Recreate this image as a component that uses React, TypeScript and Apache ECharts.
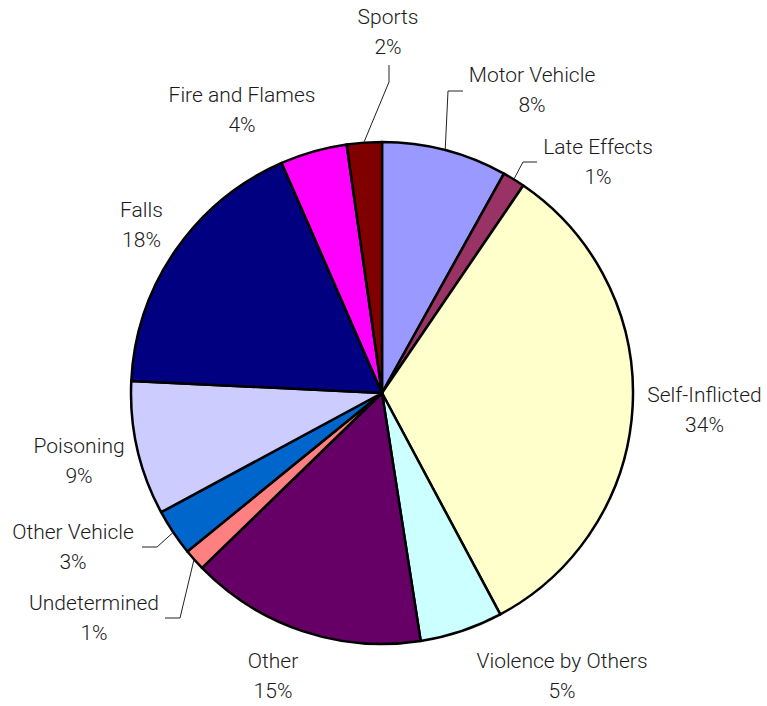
import React, { useEffect, useRef } from "react";
import * as echarts from "echarts";

const categories = [
  "Motor Vehicle",
  "Late Effects",
  "Self-Inflicted",
  "Violence by Others",
  "Other",
  "Undetermined",
  "Other Vehicle",
  "Poisoning",
  "Falls",
  "Fire and Flames",
  "Sports",
];
const shares = [8.08, 1.44, 32.7, 5.35, 15.2, 1.4, 3.0, 8.65, 17.7, 4.3, 2.25];
const percentLabels = ["8%", "1%", "34%", "5%", "15%", "1%", "3%", "9%", "18%", "4%", "2%"];

const COLORS = [
  "#9999FF",
  "#993366",
  "#FFFFCC",
  "#CCFFFF",
  "#660066",
  "#FF8080",
  "#0066CC",
  "#CCCCFF",
  "#000080",
  "#FF00FF",
  "#800000",
];

const CX = 382;
const CY = 393;
const R = 251;

// label block centres, as offsets from the pie centre
const LABEL_OFFSETS: number[][] = [
  [150, -303],
  [216, -231],
  [322.5, 17],
  [180, 283],
  [-109, 283],
  [-288, 225],
  [-309, 154],
  [-303, 68],
  [-240.5, -168],
  [-140, -283],
  [6, -361.5],
];
// leader lines: [bend, end] offsets from the pie centre, or null
const LEADERS: (number[][] | null)[] = [
  [[66, -302], [81, -302]],
  [[141, -231], [155, -231]],
  null,
  null,
  null,
  [[-202, 225], [-217, 225]],
  [[-225, 154], [-240, 154]],
  null,
  null,
  null,
  [[7, -311], [7, -328]],
];

function midEdge(i: number): number[] {
  const total = shares.reduce((a, b) => a + b, 0);
  let cum = 0;
  for (let k = 0; k < i; k++) cum += shares[k];
  const mid = ((cum + shares[i] / 2) / total) * Math.PI * 2;
  return [CX + (R + 1) * Math.sin(mid), CY - (R + 1) * Math.cos(mid)];
}

export default function App() {
  const ref = useRef<HTMLDivElement>(null);
  useEffect(() => {
    if (!ref.current) return;
    const chart = echarts.init(ref.current, undefined, { renderer: "svg" });
    chart.setOption({
      animation: false,
      backgroundColor: "#ffffff",
      series: [
        {
          type: "pie",
          center: [CX, CY],
          radius: [0, R],
          startAngle: 90,
          clockwise: true,
          avoidLabelOverlap: false,
          itemStyle: { borderColor: "#000000", borderWidth: 2.5 },
          emphasis: { disabled: true },
          label: {
            show: true,
            position: "outside",
            fontFamily: "Roboto",
            fontWeight: 300,
            fontSize: 21,
            lineHeight: 30,
            color: "#1a1a1a",
            align: "center",
            formatter: (p: any) => `${p.name}\n${percentLabels[p.dataIndex]}`,
          },
          labelLine: {
            show: true,
            smooth: false,
            lineStyle: { color: "#222222", width: 1 },
          },
          labelLayout: (p: any) => {
            const i = p.dataIndex;
            const off = LABEL_OFFSETS[i];
            const res: any = {
              x: CX + off[0],
              y: CY + off[1],
              align: "center",
              verticalAlign: "middle",
            };
            const ld = LEADERS[i];
            if (ld) {
              res.labelLinePoints = [
                midEdge(i),
                [CX + ld[0][0], CY + ld[0][1]],
                [CX + ld[1][0], CY + ld[1][1]],
              ];
            }
            return res;
          },
          data: categories.map((name, i) => ({
            name,
            value: shares[i],
            itemStyle: { color: COLORS[i] },
            labelLine: { show: LEADERS[i] !== null },
          })),
        },
      ],
    });
    return () => chart.dispose();
  }, []);
  return (
    <div
      ref={ref}
      style={{ position: "fixed", left: 0, top: 0, width: 767, height: 706 }}
    />
  );
}
